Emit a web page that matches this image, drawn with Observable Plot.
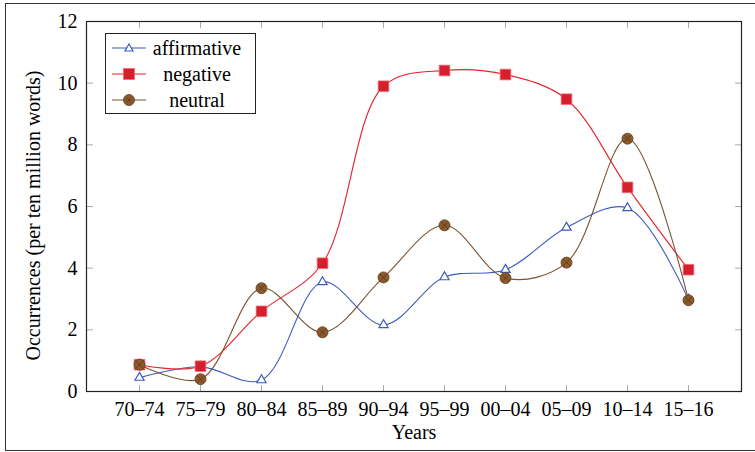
<!DOCTYPE html>
<html>
<head>
<meta charset="utf-8">
<script src="https://cdn.jsdelivr.net/npm/d3@7"></script>
<script src="https://cdn.jsdelivr.net/npm/@observablehq/plot@0.6"></script>
<style>
  html, body { margin: 0; padding: 0; background: #fff; }
  #wrap { position: relative; width: 755px; height: 452px; overflow: hidden; font-family: "Liberation Serif", "Times New Roman", serif; }
  #border { position: absolute; left: 5px; top: 3px; width: 770px; height: 448px; border: 1.5px solid #333; box-sizing: border-box; pointer-events: none; }
  #legend { position: absolute; left: 105px; top: 33px; width: 151px; height: 81px; border: 1px solid #222; background: #fff; box-sizing: border-box; }
  .row { position: absolute; left: 0; width: 151px; height: 26px; }
  .row svg { position: absolute; left: 6px; top: 0; }
  .row span { position: absolute; left: 40px; width: 102px; text-align: center; top: 1px; font-size: 20px; line-height: 24px; color: #000; }
</style>
</head>
<body>
<div id="wrap">
  <div id="chart"></div>
  <div id="border"></div>
  <div id="legend"></div>
</div>
<script>
const periods = ["70–74", "75–79", "80–84", "85–89", "90–94", "95–99", "00–04", "05–09", "10–14", "15–16"];
const affirmative = [0.45, 0.80, 0.37, 3.55, 2.16, 3.71, 3.95, 5.32, 5.95, 2.98];
const negative    = [0.87, 0.82, 2.60, 4.16, 9.90, 10.41, 10.28, 9.48, 6.62, 3.95];
const neutral     = [0.87, 0.40, 3.35, 1.92, 3.70, 5.39, 3.68, 4.18, 8.20, 2.96];
const yTicks = [0, 2, 4, 6, 8, 10, 12];
const seriesNames = ["affirmative", "negative", "neutral"];

const BLUE = "#3d5bbd", RED = "#e8212c", RED_FILL = "#d51f2d", BROWN = "#7b5430", BROWN_FILL = "#8a5a2c", CROSS = "#4e3118";

const toRows = vals => periods.map((p, i) => ({p, v: vals[i]}));
const aff = toRows(affirmative), neg = toRows(negative), neu = toRows(neutral);

const tickShape = { draw(context, l) { context.moveTo(0, 0); context.lineTo(0, -l); } };
const tickOpts = {length: 6, anchor: "start", shape: tickShape, stroke: "#aaa", strokeWidth: 1};

const chart = Plot.plot({
  width: 755, height: 452,
  marginLeft: 86, marginRight: 14, marginTop: 21, marginBottom: 61,
  style: {fontFamily: "Liberation Serif, Times New Roman, serif", fontSize: "20px", background: "transparent", color: "#000"},
  x: {type: "point", domain: periods, padding: 0.85, label: null},
  y: {domain: [0, 12], label: null},
  marks: [
    // inner grey ticks on all four sides
    Plot.vector(periods, {x: d => d, frameAnchor: "bottom", rotate: 0, ...tickOpts}),
    Plot.vector(periods, {x: d => d, frameAnchor: "top", rotate: 180, ...tickOpts}),
    Plot.vector(yTicks, {y: d => d, frameAnchor: "left", rotate: 90, ...tickOpts}),
    Plot.vector(yTicks, {y: d => d, frameAnchor: "right", rotate: -90, ...tickOpts}),
    Plot.axisX({tickSize: 0, tickPadding: 10, fontSize: 20, label: null}),
    Plot.axisY({ticks: yTicks, tickSize: 0, tickPadding: 9, fontSize: 20, label: null}),
    Plot.text(["Years"], {frameAnchor: "bottom", textAnchor: "middle", dy: 47, fontSize: 20}),
    Plot.text(["Occurrences (per ten million words)"], {frameAnchor: "left", textAnchor: "middle", rotate: -90, dx: -53, dy: 9, fontSize: 20}),
    // affirmative
    Plot.line(aff, {x: "p", y: "v", stroke: BLUE, strokeWidth: 1.1, curve: "catmull-rom"}),
    Plot.dot(aff, {x: "p", y: "v", symbol: "triangle", r: 3.4, fill: "#fff", stroke: BLUE, strokeWidth: 1.2}),
    // negative
    Plot.line(neg, {x: "p", y: "v", stroke: RED, strokeWidth: 1.1, curve: "catmull-rom"}),
    Plot.dot(neg, {x: "p", y: "v", symbol: "square", r: 6.0, fill: RED_FILL, stroke: "#f06a70", strokeWidth: 0.8}),
    // neutral
    Plot.line(neu, {x: "p", y: "v", stroke: BROWN, strokeWidth: 1.1, curve: "catmull-rom"}),
    Plot.dot(neu, {x: "p", y: "v", symbol: "circle", r: 5.5, fill: BROWN_FILL, stroke: "#5e3c1c", strokeWidth: 0.8}),
    Plot.dot(neu, {x: "p", y: "v", symbol: "times", r: 3.2, stroke: CROSS, strokeWidth: 0.7}),
    Plot.frame({stroke: "#222", strokeWidth: 1.2})
  ]
});
document.getElementById("chart").appendChild(chart);

// legend
const legend = document.getElementById("legend");
const markers = {
  affirmative: `<line x1="0" y1="13" x2="34" y2="13" stroke="${BLUE}" stroke-width="1.1"/><path d="M17,9 L21,16 L13,16 Z" fill="#fff" stroke="${BLUE}" stroke-width="1.2"/>`,
  negative: `<line x1="0" y1="13" x2="34" y2="13" stroke="${RED}" stroke-width="1.1"/><rect x="11.5" y="7.5" width="11" height="11" fill="${RED_FILL}" stroke="#f06a70" stroke-width="0.8"/>`,
  neutral: `<line x1="0" y1="13" x2="34" y2="13" stroke="${BROWN}" stroke-width="1.1"/><circle cx="17" cy="13" r="5.5" fill="${BROWN_FILL}" stroke="#5e3c1c" stroke-width="0.8"/><path d="M14.5,10.5 L19.5,15.5 M19.5,10.5 L14.5,15.5" stroke="${CROSS}" stroke-width="0.7"/>`
};
seriesNames.forEach((name, i) => {
  const row = document.createElement("div");
  row.className = "row";
  row.style.top = (1 + i * 26) + "px";
  row.innerHTML = `<svg width="34" height="26">${markers[name]}</svg><span>${name}</span>`;
  legend.appendChild(row);
});
</script>
</body>
</html>
